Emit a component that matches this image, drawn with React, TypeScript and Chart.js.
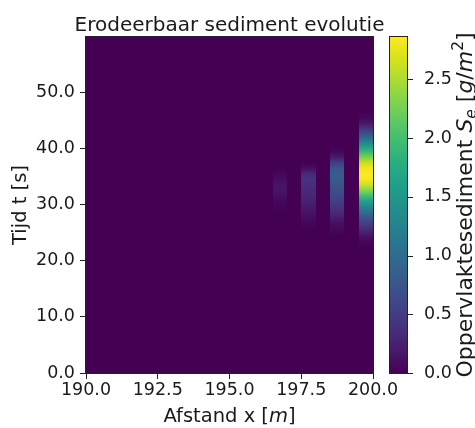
import { useEffect, useRef } from "react";
import { Chart, registerables } from "chart.js";

Chart.register(...registerables);

// ---------- data ----------
const X_MIN = 190.0;
const X_MAX = 200.0;
const T_MIN = 0.0;
const T_MAX = 59.9;
const CB_MAX = 2.86;

const X_TICKS = [190.0, 192.5, 195.0, 197.5, 200.0];
const T_TICKS = [0, 10, 20, 30, 40, 50];
const CB_TICKS = [0, 0.5, 1.0, 1.5, 2.0, 2.5];

// left edges of the distance cells [m]
const X_CELLS = [
  190.0, 190.5, 191.0, 191.5, 192.0, 192.5, 193.0, 193.5, 194.0, 194.5,
  195.0, 195.5, 196.0, 196.5, 197.0, 197.5, 198.0, 198.5, 199.0, 199.5,
];
const CELL_WIDTH = 0.5;
const ROW_HEIGHT = 1.0;
const ROW_COUNT = 60; // rows t = 0 .. 59

// non-zero columns: value per row starting at the given time row
const COL_196_5_START = 29;
const COL_196_5 = [0.02, 0.05, 0.1, 0.14, 0.14, 0.09, 0.03];

const COL_197_5_START = 26;
const COL_197_5 = [0.03, 0.07, 0.13, 0.19, 0.24, 0.29, 0.33, 0.37, 0.4, 0.32, 0.1];

const COL_198_5_START = 25;
const COL_198_5 = [0.04, 0.1, 0.2, 0.32, 0.42, 0.52, 0.6, 0.68, 0.74, 0.8, 0.82, 0.75, 0.5, 0.2, 0.05];

const COL_199_5_START = 23;
const COL_199_5 = [
  0.05, 0.15, 0.33, 0.5, 0.72, 0.98, 1.28, 1.6, 1.95, 2.3, 2.62, 2.82, 2.86,
  2.8, 2.6, 2.25, 1.9, 1.52, 1.12, 0.74, 0.45, 0.18, 0.05,
];

const PROFILES = [
  { x: 196.5, start: COL_196_5_START, values: COL_196_5 },
  { x: 197.5, start: COL_197_5_START, values: COL_197_5 },
  { x: 198.5, start: COL_198_5_START, values: COL_198_5 },
  { x: 199.5, start: COL_199_5_START, values: COL_199_5 },
];

// ---------- colormap (viridis) ----------
const VIRIDIS = [
  [68, 1, 84], [72, 24, 106], [71, 45, 123], [66, 64, 134], [59, 82, 139],
  [51, 99, 141], [44, 114, 142], [38, 130, 142], [33, 145, 140], [31, 160, 136],
  [40, 174, 128], [63, 188, 115], [94, 201, 98], [132, 212, 75], [173, 220, 48],
  [216, 226, 25], [253, 231, 37],
];

function viridis(f: number): string {
  const v = Math.max(0, Math.min(1, f));
  const n = VIRIDIS.length - 1;
  const p = v * n;
  const i = Math.min(Math.floor(p), n - 1);
  const t = p - i;
  const a = VIRIDIS[i];
  const b = VIRIDIS[i + 1];
  const c = a.map((av, k) => Math.round(av + (b[k] - av) * t));
  return `rgb(${c[0]},${c[1]},${c[2]})`;
}

function columnValues(x0: number): number[] {
  const out: number[] = new Array(ROW_COUNT).fill(0);
  const prof = PROFILES.find((p) => Math.abs(p.x - x0) < 1e-6);
  if (prof) {
    prof.values.forEach((v, k) => {
      const r = prof.start + k;
      if (r >= 0 && r < ROW_COUNT) out[r] = v;
    });
  }
  return out;
}

// ---------- styles ----------
const FONT = "'DejaVu Sans', sans-serif";
const TEXT = "#1a1a1a";
const TICK_SIZE = 17.5;
const LABEL_SIZE = 19.5;
const TITLE_SIZE = 20;
const CB_LABEL_SIZE = 22;

type Seg = { text: string; italic?: boolean; scale?: number; dy?: number };

function drawRich(ctx: CanvasRenderingContext2D, segs: Seg[], size: number, cx: number, baseline: number) {
  const fontOf = (s: Seg) => `${s.italic ? "italic " : ""}${size * (s.scale ?? 1)}px ${FONT}`;
  let total = 0;
  const widths = segs.map((s) => {
    ctx.font = fontOf(s);
    const w = ctx.measureText(s.text).width;
    total += w;
    return w;
  });
  let x = cx - total / 2;
  ctx.textAlign = "left";
  ctx.textBaseline = "alphabetic";
  segs.forEach((s, i) => {
    ctx.font = fontOf(s);
    ctx.fillText(s.text, x, baseline + (s.dy ?? 0) * size);
    x += widths[i];
  });
}

const heatmapPlugin = {
  id: "heatmap",
  beforeDatasetsDraw(chart: any) {
    const { ctx, chartArea: a, scales } = chart;
    const xs = scales.x;
    const ys = scales.y;
    ctx.save();
    ctx.beginPath();
    ctx.rect(a.left, a.top, a.right - a.left, a.bottom - a.top);
    ctx.clip();
    const yBottom = ys.getPixelForValue(T_MIN);
    const yTop = ys.getPixelForValue(T_MIN + ROW_COUNT * ROW_HEIGHT);
    X_CELLS.forEach((x0) => {
      const vals = columnValues(x0);
      const px0 = Math.round(xs.getPixelForValue(x0));
      const px1 = Math.round(xs.getPixelForValue(x0 + CELL_WIDTH));
      const g = ctx.createLinearGradient(0, yBottom, 0, yTop);
      g.addColorStop(0, viridis(vals[0] / CB_MAX));
      vals.forEach((v, r) => {
        const c = ys.getPixelForValue(T_MIN + (r + 0.5) * ROW_HEIGHT);
        const off = (yBottom - c) / (yBottom - yTop);
        if (off >= 0 && off <= 1) g.addColorStop(off, viridis(v / CB_MAX));
      });
      g.addColorStop(1, viridis(vals[vals.length - 1] / CB_MAX));
      ctx.fillStyle = g;
      ctx.fillRect(px0, a.top, px1 - px0, a.bottom - a.top);
    });
    ctx.restore();
  },
  afterDraw(chart: any) {
    const { ctx, chartArea: a, scales } = chart;
    const cb = scales.cb;
    ctx.save();
    // frame
    ctx.strokeStyle = "#222";
    ctx.lineWidth = 1;
    ctx.strokeRect(a.left - 0.5, a.top - 0.5, a.right - a.left + 1, a.bottom - a.top + 1);

    // colorbar
    const cbX = a.right + 17;
    const cbW = 17;
    const y0 = cb.getPixelForValue(0);
    const y1 = cb.getPixelForValue(CB_MAX);
    const g = ctx.createLinearGradient(0, y0, 0, y1);
    VIRIDIS.forEach((c, i) => g.addColorStop(i / (VIRIDIS.length - 1), `rgb(${c[0]},${c[1]},${c[2]})`));
    ctx.fillStyle = g;
    ctx.fillRect(cbX, y1, cbW, y0 - y1);
    ctx.strokeRect(cbX - 0.5, y1 - 0.5, cbW + 1, y0 - y1 + 1);
    ctx.beginPath();
    cb.ticks.forEach((t: any) => {
      const py = Math.round(cb.getPixelForValue(t.value)) + 0.5;
      ctx.moveTo(cbX + cbW, py);
      ctx.lineTo(cbX + cbW + 6, py);
    });
    ctx.stroke();

    ctx.fillStyle = TEXT;
    // title
    drawRich(ctx, [{ text: "Erodeerbaar sediment evolutie" }], TITLE_SIZE, (a.left + a.right) / 2, 31);
    // x label
    drawRich(
      ctx,
      [{ text: "Afstand x [" }, { text: "m", italic: true }, { text: "]" }],
      LABEL_SIZE,
      (a.left + a.right) / 2,
      422
    );
    // y label
    ctx.save();
    ctx.translate(26, (a.top + a.bottom) / 2);
    ctx.rotate(-Math.PI / 2);
    drawRich(ctx, [{ text: "Tijd t [s]" }], LABEL_SIZE, 0, 0);
    ctx.restore();
    // colorbar label
    ctx.save();
    ctx.translate(471.5, (a.top + a.bottom) / 2);
    ctx.rotate(-Math.PI / 2);
    drawRich(
      ctx,
      [
        { text: "Oppervlaktesediment " },
        { text: "S", italic: true },
        { text: "e", italic: true, scale: 0.7, dy: 0.2 },
        { text: " [" },
        { text: "g", italic: true },
        { text: "/" },
        { text: "m", italic: true },
        { text: "2", scale: 0.7, dy: -0.4 },
        { text: "]" },
      ],
      CB_LABEL_SIZE,
      0,
      0
    );
    ctx.restore();
    ctx.restore();
  },
};

const fmt = (v: any) => Number(v).toFixed(1);
const setTicks = (list: number[]) => (s: any) => {
  s.ticks = list.map((value) => ({ value }));
};

export default function App() {
  const ref = useRef<HTMLCanvasElement>(null);
  useEffect(() => {
    if (!ref.current) return;
    const tickFont = { family: FONT, size: TICK_SIZE };
    const chart = new Chart(ref.current, {
      type: "scatter",
      data: { datasets: [{ data: [] }] },
      options: {
        animation: false,
        responsive: false,
        devicePixelRatio: 1,
        events: [],
        layout: { padding: { top: 37, left: 0, right: 0, bottom: 0 } },
        plugins: { legend: { display: false }, title: { display: false }, tooltip: { enabled: false } },
        scales: {
          x: {
            type: "linear",
            position: "bottom",
            min: X_MIN,
            max: X_MAX,
            afterBuildTicks: setTicks(X_TICKS),
            ticks: { callback: fmt, font: tickFont, color: TEXT, padding: 1, maxRotation: 0, autoSkip: false },
            grid: { drawOnChartArea: false, drawTicks: true, tickLength: 6, color: "#222", lineWidth: 1 },
            border: { display: false },
            afterFit: (s: any) => {
              s.height = 55;
              s.paddingLeft = 0;
              s.paddingRight = 0;
            },
          },
          y: {
            type: "linear",
            position: "left",
            min: T_MIN,
            max: T_MAX,
            afterBuildTicks: setTicks(T_TICKS),
            ticks: { callback: fmt, font: tickFont, color: TEXT, padding: 5, autoSkip: false },
            grid: { drawOnChartArea: false, drawTicks: true, tickLength: 6, color: "#222", lineWidth: 1 },
            border: { display: false },
            afterFit: (s: any) => {
              s.width = 86;
              s.paddingTop = 0;
              s.paddingBottom = 0;
            },
          },
          cb: {
            type: "linear",
            position: "right",
            min: 0,
            max: CB_MAX,
            afterBuildTicks: setTicks(CB_TICKS),
            ticks: { callback: fmt, font: tickFont, color: TEXT, padding: 43, autoSkip: false },
            grid: { display: false },
            border: { display: false },
            afterFit: (s: any) => {
              s.width = 102;
              s.paddingTop = 0;
              s.paddingBottom = 0;
            },
          },
        },
      } as any,
      plugins: [heatmapPlugin],
    });
    return () => chart.destroy();
  }, []);
  return (
    <div style={{ position: "absolute", left: 0, top: 0, width: 475, height: 428, background: "#fff" }}>
      <canvas ref={ref} width={475} height={428} style={{ display: "block", width: 475, height: 428 }} />
    </div>
  );
}
